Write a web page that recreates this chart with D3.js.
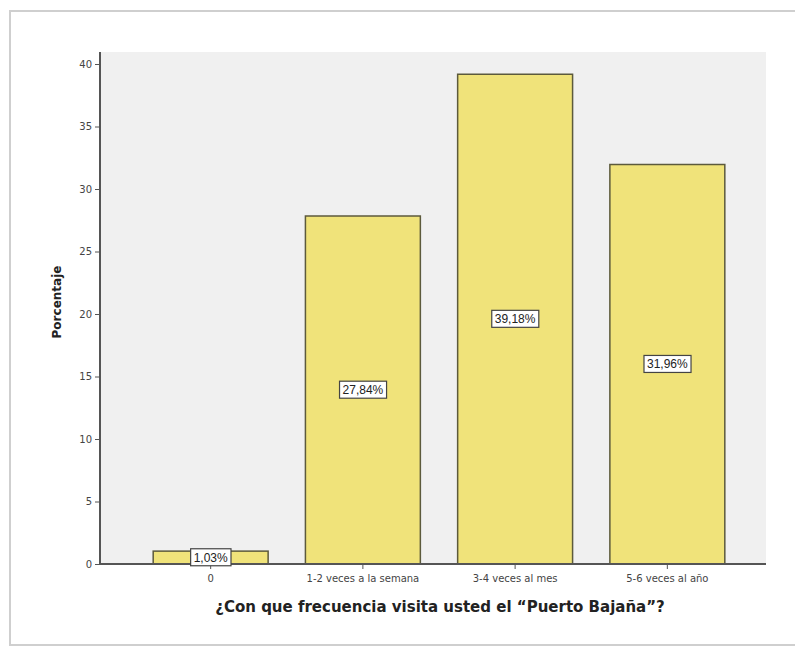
<!DOCTYPE html>
<html><head><meta charset="utf-8">
<script src="https://cdn.jsdelivr.net/npm/d3@7"></script>
<style>body{margin:0;background:#fff}svg{display:block}</style>
</head><body>
<script>
const categories = ["0", "1-2 veces a la semana", "3-4 veces al mes", "5-6 veces al año"];
const values = [1.03, 27.84, 39.18, 31.96];
const valueLabels = ["1,03%", "27,84%", "39,18%", "31,96%"];
const yTicks = [0, 5, 10, 15, 20, 25, 30, 35, 40];
const xTitle = "¿Con que frecuencia visita usted el \u201CPuerto Bajaña\u201D?";
const yTitle = "Porcentaje";

(function () {
const W = 795, H = 649;
const svg = d3.select("body").append("svg").attr("width", W).attr("height", H);

svg.append("rect").attr("x", 10).attr("y", 11).attr("width", W).attr("height", 634)
  .attr("fill", "#fff").attr("stroke", "#cfcfcf").attr("stroke-width", 2);

const pl = 100, pr = 766, pt = 52, pb = 564;
svg.append("rect").attr("x", pl).attr("y", pt).attr("width", pr - pl).attr("height", pb - pt)
  .attr("fill", "#f0f0f0");

const x = d3.scaleBand().domain(categories).range([pl + 6, pr + 6]).paddingInner(0.245).paddingOuter(0.31);
const y = d3.scaleLinear().domain([0, 40]).range([pb, 64]);

svg.append("g").selectAll("rect.bar").data(values).join("rect").attr("class", "bar")
  .attr("x", (d, i) => x(categories[i]))
  .attr("y", d => y(d))
  .attr("width", x.bandwidth())
  .attr("height", d => y(0) - y(d))
  .attr("fill", "#f0e37a").attr("stroke", "#5c5a3c").attr("stroke-width", 1.5);

const font = "DejaVu Sans, Verdana, sans-serif";
const yAxis = d3.axisLeft(y).tickValues(yTicks).tickSize(5).tickPadding(3);
const ya = svg.append("g").attr("transform", `translate(${pl},0)`).call(yAxis);
ya.select(".domain").attr("stroke", "#555").attr("stroke-width", 2).attr("d", `M0,${pt}V${pb}`);
ya.selectAll(".tick line").attr("stroke", "#555");
ya.selectAll(".tick text").attr("font-family", font).attr("font-size", 10).attr("fill", "#444");

const xAxis = d3.axisBottom(x).tickSize(5).tickPadding(6);
const xa = svg.append("g").attr("transform", `translate(0,${pb})`).call(xAxis);
xa.select(".domain").attr("stroke", "#555").attr("stroke-width", 2).attr("d", `M${pl},0H${pr}`);
xa.selectAll(".tick line").attr("stroke", "#555");
xa.selectAll(".tick text").attr("font-family", font).attr("font-size", 10).attr("fill", "#444");

const lab = svg.append("g");
values.forEach((v, i) => {
  const cx = x(categories[i]) + x.bandwidth() / 2;
  const cy = (y(v) + y(0)) / 2;
  const t = lab.append("text").attr("x", cx).attr("y", cy).attr("dy", "0.35em")
    .attr("text-anchor", "middle").attr("font-family", "Arial, Liberation Sans, sans-serif")
    .attr("font-size", 12).attr("fill", "#222").text(valueLabels[i]);
  const bb = t.node().getBBox();
  lab.insert("rect", "text").attr("x", bb.x - 3).attr("y", bb.y - 2).attr("width", bb.width + 6).attr("height", bb.height + 3)
    .attr("fill", "#fff").attr("stroke", "#444").attr("stroke-width", 1.2);
});

svg.append("text").attr("x", 440).attr("y", 612).attr("text-anchor", "middle")
  .attr("font-family", font).attr("font-weight", "bold").attr("font-size", 15)
  .attr("fill", "#222").text(xTitle);
svg.append("text").attr("transform", `translate(61,302) rotate(-90)`).attr("text-anchor", "middle")
  .attr("font-family", font).attr("font-weight", "bold").attr("font-size", 12)
  .attr("fill", "#222").text(yTitle);
})();
</script>
</body></html>
